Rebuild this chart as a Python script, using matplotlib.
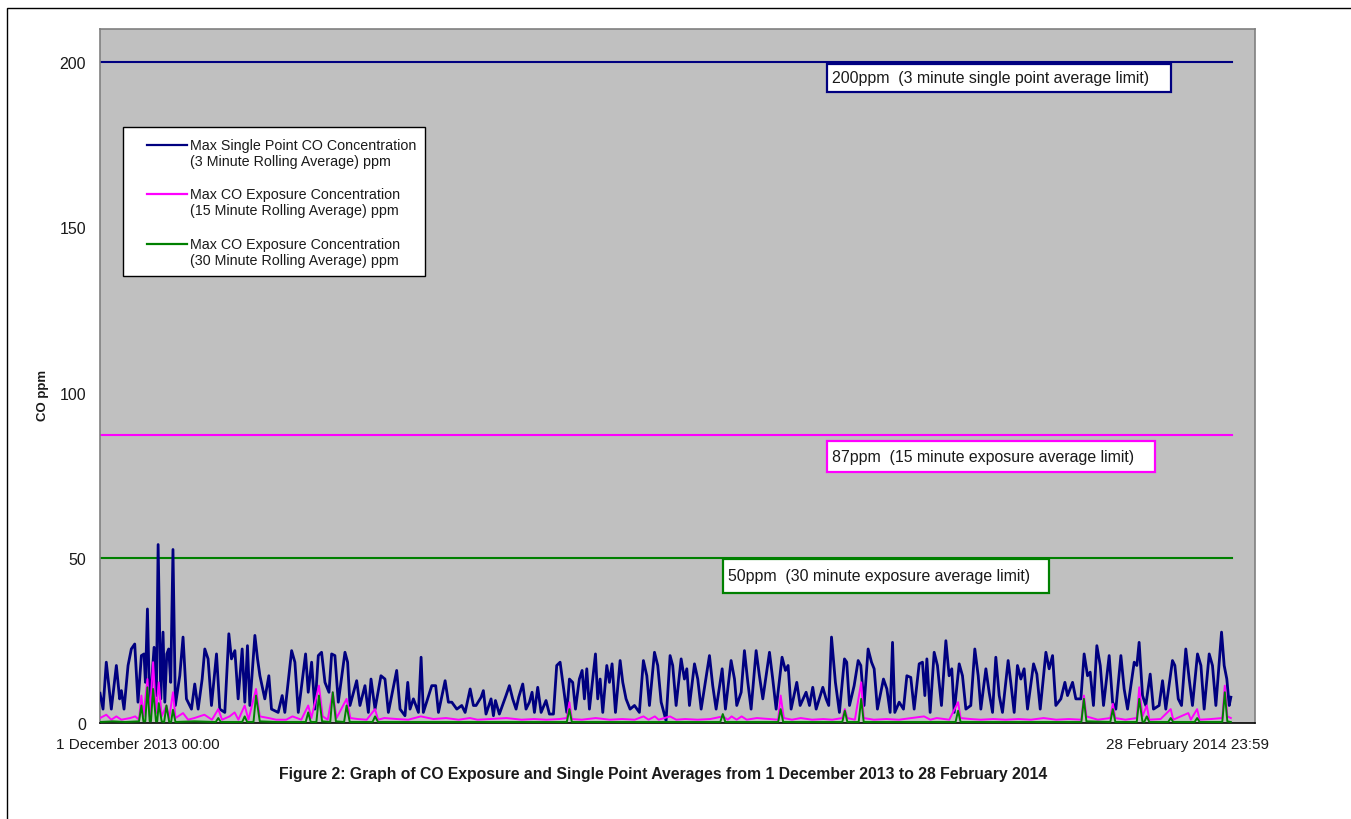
import matplotlib
matplotlib.use("Agg")
import matplotlib.pyplot as plt
from matplotlib.patches import Rectangle
from matplotlib.lines import Line2D

plt.rcParams['font.family'] = ['Liberation Sans', 'DejaVu Sans']

# ---------------- data (days since 1 Dec 2013 00:00) ----------------
blue_days = [0.00, 0.24, 0.50, 0.90, 1.30, 1.56, 1.70, 1.91, 2.23, 2.49, 2.76, 3.02, 3.29, 3.50, 3.61, 3.77,
             3.95, 4.30, 4.48, 4.62, 4.83, 5.01, 5.15, 5.31, 5.46, 5.62, 5.80, 5.99, 6.34, 6.60, 6.87, 7.27,
             7.53, 7.80, 8.12, 8.33, 8.59, 8.86, 9.26, 9.52, 9.92, 10.24, 10.45, 10.72, 10.98, 11.30, 11.51,
             11.72, 11.91, 12.31, 12.52, 12.71, 13.10, 13.42, 13.63, 14.16, 14.48, 14.69, 15.23, 15.49, 15.76,
             16.34, 16.55, 16.82, 17.08, 17.35, 17.61, 17.88, 18.20, 18.41, 18.67, 18.94, 19.47, 19.68, 19.87,
             20.40, 20.66, 21.06, 21.33, 21.54, 21.86, 22.33, 22.65, 22.92, 23.58, 23.85, 24.24, 24.46, 24.64,
             24.91, 25.31, 25.52, 25.70, 26.37, 26.68, 26.90, 27.43, 27.69, 27.96, 28.36, 28.75, 29.02, 29.42,
             29.68,
             29.89, 30.29, 30.47, 30.68, 31.08, 31.27, 31.43, 31.74, 32.27, 32.54, 32.80, 33.07, 33.28, 33.60,
             33.86, 34.13, 34.34, 34.53, 34.79, 35.06, 35.45, 35.72, 36.04, 36.30, 36.57, 36.78, 37.10, 37.31,
             37.57, 37.79, 38.10, 38.32, 38.50, 38.69, 38.90, 39.38, 39.56, 39.75, 39.96, 40.28, 40.49, 40.70,
             40.97, 41.34, 41.55, 41.81, 42.13, 42.48, 42.87, 43.19, 43.46, 43.67, 44.07, 44.33, 44.60, 44.99,
             45.31, 45.52, 45.79, 46.19, 46.45, 46.64, 46.85, 47.25, 47.51, 47.78, 48.44, 48.70, 48.97, 49.45,
             49.71, 50.16, 50.43, 50.61, 50.96, 51.22, 51.49, 51.75, 52.15, 52.41, 52.68, 53.21, 53.47, 53.74,
             54.21, 54.48, 54.69, 54.93, 55.38, 55.65, 56.12, 56.39, 56.65, 56.92, 57.45, 57.71, 57.92, 58.14,
             58.45, 58.77, 59.17, 59.35, 59.57,
             59.94, 60.26, 60.47, 60.73, 61.05, 61.32, 61.53, 61.79, 62.27, 62.54, 62.80, 62.99, 63.17, 63.52,
             63.86, 64.13, 64.44, 64.71, 65.11, 65.37, 65.56, 65.72, 65.98, 66.30, 66.56, 66.88, 67.23, 67.49,
             67.70, 67.89, 68.29, 68.55, 68.82, 69.21, 69.53, 69.80, 70.01, 70.41, 70.67, 70.94, 71.20, 71.47,
             71.73, 72.18, 72.45, 72.66, 72.92, 73.19, 73.45, 73.72, 74.20, 74.46, 74.73, 75.18, 75.44, 75.71,
             75.97, 76.37, 76.69, 76.90, 77.30, 77.56, 77.96, 78.22, 78.49, 78.70, 78.96, 79.23, 79.50, 79.76,
             80.21, 80.48, 80.74, 81.14, 81.40, 81.67, 82.20, 82.41, 82.59, 82.86, 83.12, 83.47, 83.73, 84.18,
             84.45, 84.71, 85.24, 85.43, 85.70, 85.96, 86.30, 86.57, 86.83, 87.23, 87.50, 87.76, 88.16, 88.42,
             88.69, 89.14, 89.35, 89.56, 89.75, 89.88]
blue_vals = [9.0, 4.2, 18.4, 4.2, 17.4, 7.3, 9.8, 4.2, 17.4, 22.4, 23.9, 6.3, 20.4, 20.9, 12.3, 34.5,
             4.2, 22.9, 8.3, 54.0, 7.3, 27.5, 6.3, 20.9, 22.4, 12.3, 52.5, 5.3, 14.3, 26.0, 7.3, 4.2,
             11.8, 4.2, 13.3, 22.4, 19.4, 5.3, 20.9, 4.2, 3.2, 27.0, 19.4, 21.9, 7.3, 22.4, 6.3,
             23.4, 5.3, 26.5, 19.4, 14.3, 7.3, 14.3, 4.2, 3.2, 8.3, 3.2, 21.9, 18.4, 3.2,
             20.9, 9.3, 18.4, 4.2, 20.4, 21.4, 12.3, 9.3, 20.9, 20.4, 6.3, 21.4, 18.4, 5.3,
             12.8, 5.3, 11.3, 3.2, 13.3, 4.2, 14.3, 13.3, 3.2, 15.9, 4.2, 2.2, 12.3, 4.2,
             7.3, 3.2, 19.9, 3.2, 11.3, 11.3, 3.2, 12.8, 6.3, 6.3, 4.2, 5.3, 3.2, 10.3,
             5.3,
             5.3, 7.8, 9.8, 2.7, 7.3, 2.2, 6.8, 2.7, 8.3, 11.3, 7.3, 4.2, 7.8, 11.8,
             4.2, 6.3, 9.3, 3.2, 10.8, 3.2, 6.8, 2.7, 2.7, 17.4, 18.4, 12.3, 3.2, 13.3,
             12.3, 4.2, 13.3, 15.9, 7.3, 16.4, 4.2, 20.9, 7.3, 13.3, 3.2, 17.4, 12.3, 17.9,
             3.2, 18.9, 12.3, 7.3, 4.2, 5.3, 3.2, 18.9, 14.3, 5.3, 21.4, 17.4, 6.3, 0.7,
             20.4, 17.4, 5.3, 19.4, 13.3, 16.4, 5.3, 17.9, 13.3, 4.2, 20.4, 11.3, 4.2, 16.4,
             4.2, 18.9, 13.3, 5.3, 9.3, 21.9, 12.3, 4.2, 21.9, 14.3, 7.3, 21.4, 13.3, 4.2,
             19.9, 15.9, 17.4, 4.2, 12.3, 5.3, 9.3, 5.3, 10.8, 4.2, 10.8, 7.3, 5.3, 26.0,
             12.3, 3.2, 19.4, 18.4, 5.3,
             11.3, 18.9, 17.4, 5.3, 22.4, 18.4, 16.4, 4.2, 13.3, 10.3, 3.2, 24.4, 3.2, 6.3,
             4.2, 14.3, 13.8, 4.2, 17.9, 18.4, 8.3, 19.4, 3.2, 21.4, 17.4, 5.3, 24.9, 14.3,
             16.4, 3.2, 17.9, 14.3, 4.2, 5.3, 22.4, 14.3, 4.2, 16.4, 9.3, 3.2, 19.9, 8.3,
             3.2, 18.9, 10.3, 3.2, 17.4, 13.3, 16.4, 4.2, 17.9, 14.8, 4.2, 21.4, 16.4, 20.4,
             5.3, 7.3, 12.3, 8.3, 12.3, 7.3, 7.3, 20.9, 14.3, 15.4, 5.3, 23.4, 17.4, 5.3,
             20.4, 6.3, 4.2, 20.4, 10.3, 4.2, 18.4, 17.4, 24.4, 8.3, 5.3, 14.8, 4.2, 5.3,
             12.8, 4.2, 18.9, 17.4, 7.3, 5.3, 22.4, 13.3, 5.3, 20.9, 17.4, 4.2, 20.9, 17.4,
             5.3, 27.5, 17.4, 13.3, 5.3, 7.8]

pink_days = [0, 0.5, 0.9, 1.3, 1.7, 2.4, 2.8, 3.1, 3.29, 3.45, 3.77, 3.95, 4.22, 4.45, 4.67, 4.9, 5.28, 5.5,
             5.8, 6.0, 6.6, 7.0, 7.5, 8.3, 8.9, 9.4, 9.7, 10.3, 10.7, 11.0, 11.5, 11.8, 12.4, 12.7, 13.4, 14.0,
             14.8, 15.3, 16.0, 16.55, 16.8, 17.4, 17.7, 18.1, 18.5, 18.8, 19.6, 19.9, 20.5, 21.2, 21.86, 22.1,
             22.6, 23.6, 24.5, 25.5, 26.5, 27.5, 28.5, 29.4, 30.0, 31.0, 32.3, 33.5, 34.5, 35.5, 36.5, 37.1,
             37.31, 37.5, 38.3, 39.4, 40.5, 41.5, 42.5, 43.2, 43.6, 44.1, 44.4, 45.3, 45.8, 46.5, 47.5, 48.5,
             49.5, 49.9, 50.2, 50.6, 51.0, 51.4, 52.2, 53.2, 53.9, 54.1, 54.35, 55.0, 55.7, 56.6, 57.5, 58.2,
             59.0, 59.2, 59.4, 60.0, 60.5, 60.7, 61.5, 62.5, 63.5, 64.5, 65.5, 66.0, 66.5, 67.5, 68.2, 68.4,
             69.2, 70.0, 71.0, 72.0, 73.0, 74.0, 75.0, 76.0, 77.0, 78.0, 78.2, 78.4, 79.3, 80.3, 80.5, 80.7,
             81.5, 82.4, 82.6, 82.85, 83.2, 83.4, 84.3, 85.1, 85.3, 86.5, 86.7, 87.2, 87.4, 88.3, 89.2, 89.4,
             89.6, 89.88]
pink_vals = [1.5, 2.5, 1.0, 2.0, 1.0, 1.5, 2.0, 1.0, 8.3, 2.0, 13.3, 2.0, 18.4, 3.0, 12.3, 2.0, 5.3, 1.5,
             9.3, 1.5, 3.0, 1.0, 1.5, 2.5, 1.0, 4.2, 1.0, 2.0, 3.2, 1.0, 5.3, 1.0, 10.3, 2.0, 1.5, 1.0,
             1.0, 2.0, 1.0, 5.3, 1.5, 11.3, 2.0, 1.0, 9.3, 1.5, 7.3, 1.5, 1.2, 1.0, 4.2, 1.0,
             1.5, 1.2, 1.0, 2.0, 1.2, 1.5, 1.0, 1.5, 1.0, 1.2, 1.5, 1.0, 1.2, 1.0, 1.2, 1.5,
             6.3, 1.2, 1.0, 1.5, 1.0, 1.2, 1.0, 2.0, 1.0, 2.0, 1.0, 2.0, 1.0, 1.2, 1.0, 1.2,
             2.0, 1.0, 2.0, 1.0, 2.0, 1.0, 1.5, 1.2, 1.0, 8.3, 1.5, 1.0, 1.5, 1.0, 1.2, 1.0,
             1.5, 4.2, 1.5, 1.0, 12.3, 1.5, 1.0, 1.2, 1.0, 1.5, 2.0, 1.0, 1.5, 1.0, 6.3, 1.5,
             1.2, 1.0, 1.2, 1.0, 1.2, 1.0, 1.5, 1.0, 1.2, 1.0, 8.3, 2.0, 1.0, 1.5, 5.8, 1.5,
             1.0, 1.5, 10.8, 2.0, 5.3, 1.0, 1.2, 4.2, 1.0, 3.0, 1.0, 4.2, 1.0, 1.2, 1.5, 11.3,
             2.0, 1.5]

green_days = [0, 1.0, 2.0, 3.1, 3.29, 3.45, 3.6, 3.77, 3.95, 4.05, 4.22, 4.45, 4.55, 4.67, 4.9, 5.1, 5.28,
              5.5, 5.65, 5.8, 6.0, 7.5, 9.2, 9.4, 9.6, 11.3, 11.5, 11.7, 12.2, 12.4, 12.7, 14.0, 16.35,
              16.55, 16.75, 17.2, 17.4, 17.65, 18.3, 18.5, 18.75, 19.4, 19.6, 19.85, 21.66, 21.86, 22.1,
              25.0, 30.0, 37.1, 37.31, 37.5, 43.0, 49.3, 49.5, 49.7, 53.9, 54.1, 54.3, 59.0, 59.2, 59.4,
              60.3, 60.5, 60.7, 68.0, 68.2, 68.4, 78.0, 78.2, 78.4, 80.3, 80.5, 80.7, 82.4, 82.6, 82.85,
              83.0, 83.2, 83.4, 84.9, 85.1, 85.3, 87.0, 87.2, 87.4, 89.2, 89.4, 89.6, 89.88]
green_vals = [0.3, 0.5, 0.3, 0.5, 5.3, 0.5, 0.5, 10.8, 0.5, 0.5, 10.3, 0.5, 0.5, 6.0, 0.5, 0.3, 5.3,
              0.3, 0.3, 4.0, 0.3, 0.5, 0.3, 1.5, 0.3, 0.3, 2.0, 0.3, 0.3, 8.3, 0.5, 0.3, 0.3,
              3.2, 0.3, 0.3, 8.3, 0.5, 0.3, 9.3, 0.5, 0.3, 5.3, 0.3, 0.3, 2.0, 0.3,
              0.3, 0.3, 0.3, 4.2, 0.3, 0.3, 0.3, 2.7, 0.3, 0.3, 4.2, 0.3, 0.3, 3.7, 0.3,
              0.3, 7.3, 0.3, 0.3, 3.7, 0.3, 0.3, 7.3, 0.5, 0.3, 4.2, 0.3, 0.3, 7.3, 0.5,
              0.3, 2.0, 0.3, 0.3, 1.5, 0.3, 0.3, 1.5, 0.3, 0.3, 9.3, 0.5, 0.3]

limit_days = [0, 90]
limit_200 = [200, 200]
limit_87 = [87, 87]
limit_50 = [50, 50]

series_labels = [("Max Single Point CO Concentration", "(3 Minute Rolling Average) ppm"),
                 ("Max CO Exposure Concentration", "(15 Minute Rolling Average) ppm"),
                 ("Max CO Exposure Concentration", "(30 Minute Rolling Average) ppm")]
limit_labels = ["200ppm  (3 minute single point average limit)",
                "87ppm  (15 minute exposure average limit)",
                "50ppm  (30 minute exposure average limit)"]
y_ticks = [0, 50, 100, 150, 200]
x_start_label = "1 December 2013 00:00"
x_end_label = "28 February 2014 23:59"
caption = "Figure 2: Graph of CO Exposure and Single Point Averages from 1 December 2013 to 28 February 2014"

NAVY = "#000080"
MAGENTA = "#FF00FF"
GREEN = "#008000"
TXT = "#1a1a1a"

# ---------------- figure ----------------
W, H = 1351, 820
fig = plt.figure(figsize=(W / 100, H / 100), dpi=100)
fig.patch.set_facecolor("white")

def fx(x):
    return x / W

def fy(y):
    return 1 - y / H

# outer frame (right and bottom edges lie outside the canvas)
fig.patches.append(Rectangle((fx(7), fy(840)), fx(1370) - fx(7), fy(9) - fy(840),
                             transform=fig.transFigure, fill=False, edgecolor="black",
                             linewidth=1.0, clip_on=False))

ax = fig.add_axes([fx(100), fy(724), fx(1255) - fx(100), fy(30) - fy(724)])
ax.set_facecolor("#C0C0C0")
ax.set_xlim(0, 91.8)
ax.set_ylim(0, 210)

ax.plot(limit_days, limit_200, color=NAVY, lw=1.5, zorder=2)
ax.plot(limit_days, limit_87, color=MAGENTA, lw=1.5, zorder=2)
ax.plot(limit_days, limit_50, color=GREEN, lw=1.5, zorder=2)

ax.plot(blue_days, blue_vals, color=NAVY, lw=2.0, zorder=3)
ax.plot(pink_days, pink_vals, color=MAGENTA, lw=1.4, zorder=4)
ax.plot(green_days, green_vals, color=GREEN, lw=1.4, zorder=5)

ax.set_yticks(y_ticks)
ax.set_yticklabels([str(t) for t in y_ticks], fontsize=11.5, color=TXT)
ax.tick_params(axis="y", length=0, pad=10)
ax.set_xticks([])
for s in ["top", "right", "left"]:
    ax.spines[s].set_color("#808080")
    ax.spines[s].set_linewidth(1.2)
ax.spines["bottom"].set_color("black")
ax.spines["bottom"].set_linewidth(1.2)

fig.text(fx(43), fy(395), "CO ppm", rotation=90, ha="center", va="center",
         fontsize=9.5, fontweight="bold", color=TXT)
fig.text(fx(138), fy(745), x_start_label, ha="center", va="center", fontsize=11, color=TXT)
fig.text(fx(1188), fy(745), x_end_label, ha="center", va="center", fontsize=11, color=TXT)
fig.text(fx(663), fy(775), caption, ha="center", va="center", fontsize=11.3, fontweight="bold",
         color=TXT)

# legend (drawn manually to match the layout)
fig.patches.append(Rectangle((fx(123), fy(277)), fx(425) - fx(123), fy(128) - fy(277),
                             transform=fig.transFigure, facecolor="white", edgecolor="black",
                             linewidth=1.0, zorder=10))
for (l1, l2), col, yy in zip(series_labels, [NAVY, MAGENTA, GREEN], [146, 195, 245]):
    fig.add_artist(Line2D([fx(147), fx(187)], [fy(yy), fy(yy)], color=col, lw=1.6,
                          transform=fig.transFigure, zorder=11))
    fig.text(fx(190), fy(yy), l1, ha="left", va="center", fontsize=10.3, color=TXT, zorder=12)
    fig.text(fx(190), fy(yy + 16), l2, ha="left", va="center", fontsize=10.3, color=TXT, zorder=12)

# limit annotation boxes
boxes = [(827, 65, 1171, 93, NAVY, limit_labels[0]),
         (827, 442, 1155, 473, MAGENTA, limit_labels[1]),
         (723, 560, 1049, 594, GREEN, limit_labels[2])]
for x0, y0, x1, y1, col, txt in boxes:
    fig.patches.append(Rectangle((fx(x0), fy(y1)), fx(x1) - fx(x0), fy(y0) - fy(y1),
                                 transform=fig.transFigure, facecolor="white", edgecolor=col,
                                 linewidth=1.6, zorder=10))
    fig.text(fx(x0 + 5), fy((y0 + y1) / 2), txt, ha="left", va="center", fontsize=11.4,
             color=TXT, zorder=12)

fig.savefig("out.png", dpi=100)
